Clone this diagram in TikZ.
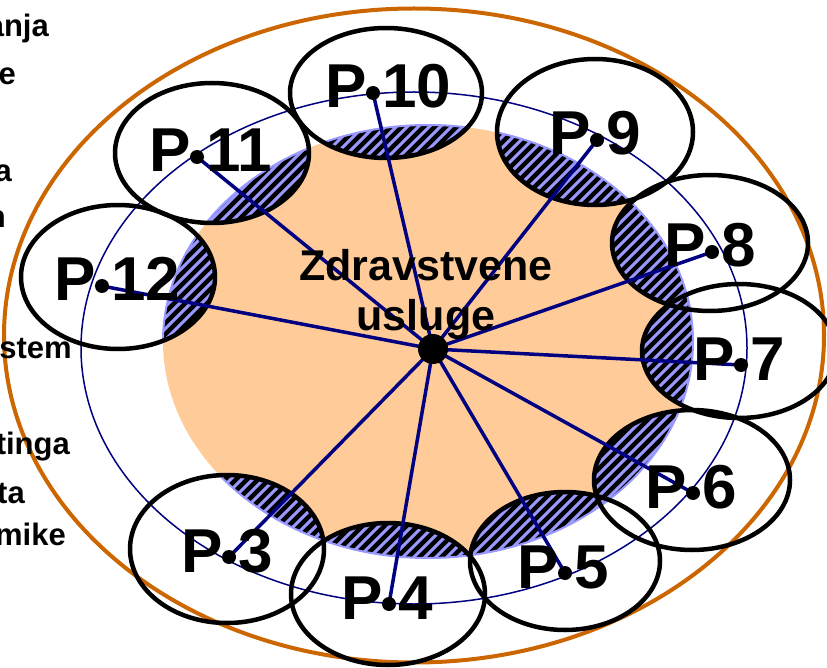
\documentclass[tikz,border=0pt]{standalone}
\usepackage{fontspec}
\setmainfont{Liberation Sans}
\definecolor{peach}{HTML}{FFCC99}
\definecolor{orng}{HTML}{CC6600}
\definecolor{navyc}{HTML}{000080}
\definecolor{hatchblue}{HTML}{9999FF}
\begin{document}
\begin{tikzpicture}[x=1pt,y=-1pt,
  pcirc/.style={draw=black,line width=4.5pt},
  spoke/.style={draw=navyc,line width=3.5pt},
  pdot/.style={circle,fill=black,inner sep=0pt,minimum size=14pt},
  plabel/.style={font=\fontsize{62}{62}\selectfont\bfseries,inner sep=0pt},
  sidetext/.style={font=\fontsize{31}{31}\selectfont\bfseries,inner sep=0pt,anchor=base east},
  ]
\useasboundingbox[fill=white] (0,0) rectangle (827,668);
% outer orange ellipse
\draw[orng,line width=4pt] (414,335.5) ellipse [x radius=410pt, y radius=327pt];
% peach core
\fill[peach] (428,341.5) ellipse [x radius=265pt, y radius=216.5pt];
% hatched overlaps
\foreach \cx/\cy/\rx/\ry in {386/93/96/65, 595/132/98/73, 710/243/98/68, 739/351/97/67, 692/480/98/70, 565/561/95/69, 388/594/97/71, 227/549/97/74, 118/277/97/72, 212/153/97/70}{
  \begin{scope}
    \clip (428,341.5) ellipse [x radius=265pt, y radius=216.5pt];
    \clip (\cx,\cy) ellipse [x radius=\rx pt, y radius=\ry pt];
    \fill[black] ({\cx-\rx},{\cy-\ry}) rectangle ({\cx+\rx},{\cy+\ry});
    \foreach \k in {-30,...,30}
      \draw[hatchblue,line width=3pt] ({\cx+\k*11-150},{\cy+150}) -- ++(300,-300);
  \end{scope}
  \begin{scope}
    \clip (\cx,\cy) ellipse [x radius=\rx pt, y radius=\ry pt];
    \draw[hatchblue,line width=2pt] (428,341.5) ellipse [x radius=265pt, y radius=216.5pt];
  \end{scope}
}
% thin blue ellipse
\draw[navyc,line width=1.5pt] (414,348) ellipse [x radius=333pt, y radius=256pt];
% participant ellipses
\foreach \cx/\cy/\rx/\ry in {386/93/96/65, 595/132/98/73, 710/243/98/68, 739/351/97/67, 692/480/98/70, 565/561/95/69, 388/594/97/71, 227/549/97/74, 118/277/97/72, 212/153/97/70}{
  \draw[pcirc] (\cx,\cy) ellipse [x radius=\rx pt, y radius=\ry pt];
}
% hub and spokes
\coordinate (hub) at (433,349);
\foreach \n/\dx/\dy in {10/373/93, 9/597/140, 8/712/252, 7/741/365, 6/693/493, 5/565/573, 4/389/604, 3/229/557, 12/102/286, 11/197/157}{
  \coordinate (p\n) at (\dx,\dy);
  \draw[spoke] (hub) -- (p\n);
}
\node[circle,fill=black,inner sep=0pt,minimum size=30pt] (hubdot) at (hub) {};
\foreach \n/\dx/\dy in {10/373/93, 9/597/140, 8/712/252, 7/741/365, 6/693/493, 5/565/573, 4/389/604, 3/229/557, 12/102/286, 11/197/157}{
  \node[pdot] (dot\n) at (p\n) {};
  \node[plabel,anchor=base east] (lp\n) at ({\dx-6},{\dy+15}) {P};
  \node[plabel,anchor=base west] (ln\n) at ({\dx+9},{\dy+15}) {\n};
}
% centre text
\node[font=\fontsize{43}{50}\selectfont\bfseries,align=center,inner sep=0pt] (zu) at (426,294) {Zdravstvene\\usluge};
% side text fragments (cut at the left edge as in the reference)
\node[sidetext] (s1) at (49,37) {anja};
\node[sidetext] (s2) at (16,85) {e};
\node[sidetext] (s3) at (12,182) {a};
\node[sidetext] (s4) at (6,228) {n};
\node[sidetext] (s5) at (72,358) {stem};
\node[sidetext] (s6) at (70,454) {tinga};
\node[sidetext] (s7) at (25,503) {ta};
\node[sidetext] (s8) at (66,545) {mike};
\end{tikzpicture}
\end{document}
